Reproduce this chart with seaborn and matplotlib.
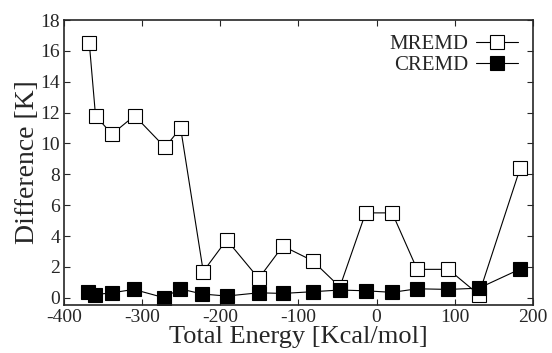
import matplotlib
matplotlib.use("Agg")
import matplotlib.pyplot as plt
import seaborn as sns
import pandas as pd

energy_m = [-368, -360, -339, -310, -271, -251, -222, -192, -151, -120, -82, -47, -14, 20, 52, 92, 131, 184]
diff_m = [16.5, 11.8, 10.6, 11.8, 9.75, 11.0, 1.7, 3.75, 1.25, 3.35, 2.4, 0.7, 5.5, 5.5, 1.84, 1.84, 0.2, 8.4]
energy_c = [-370, -361, -339, -311, -272, -252, -223, -192, -151, -120, -82, -47, -14, 20, 52, 92, 131, 184]
diff_c = [0.39, 0.2, 0.32, 0.54, 0.0, 0.58, 0.24, 0.11, 0.32, 0.28, 0.39, 0.5, 0.45, 0.35, 0.58, 0.54, 0.62, 1.86]
xticks = [-400, -300, -200, -100, 0, 100, 200]
yticks = [0, 2, 4, 6, 8, 10, 12, 14, 16, 18]

sns.set_style("ticks")
plt.rcParams["font.family"] = ["Liberation Serif", "DejaVu Serif"]
plt.rcParams["axes.unicode_minus"] = False

fig = plt.figure(figsize=(5.52, 3.53), dpi=100)
ax = fig.add_axes([0.1165, 0.136, 0.965 - 0.1165, 0.9433 - 0.136])

dfm = pd.DataFrame({"x": energy_m, "y": diff_m})
dfc = pd.DataFrame({"x": energy_c, "y": diff_c})

sns.lineplot(data=dfm, x="x", y="y", ax=ax, color="black", lw=0.8,
             marker="s", ms=9.5, mfc="white", mec="black", mew=0.8,
             label="MREMD", sort=False)
sns.lineplot(data=dfc, x="x", y="y", ax=ax, color="black", lw=0.8,
             marker="s", ms=9.5, mfc="black", mec="black", mew=0.8,
             label="CREMD", sort=False)

ax.set_xlim(-400, 200)
ax.set_ylim(-0.47, 18)
ax.set_xticks(xticks)
ax.set_yticks(yticks)
ax.tick_params(direction="in", top=True, right=True, length=4, width=0.8,
               labelsize=14, pad=3)
for s in ax.spines.values():
    s.set_linewidth(1.2)
    s.set_visible(True)
ax.set_xlabel("Total Energy [Kcal/mol]", fontsize=19, labelpad=0)
ax.set_ylabel("Difference [K]", fontsize=20, labelpad=0)

leg = ax.legend(loc="upper right", frameon=False, markerfirst=False,
                fontsize=15, handlelength=2.0, handletextpad=0.4,
                borderaxespad=0.3, labelspacing=0.05)

fig.savefig("out.png", dpi=100)
